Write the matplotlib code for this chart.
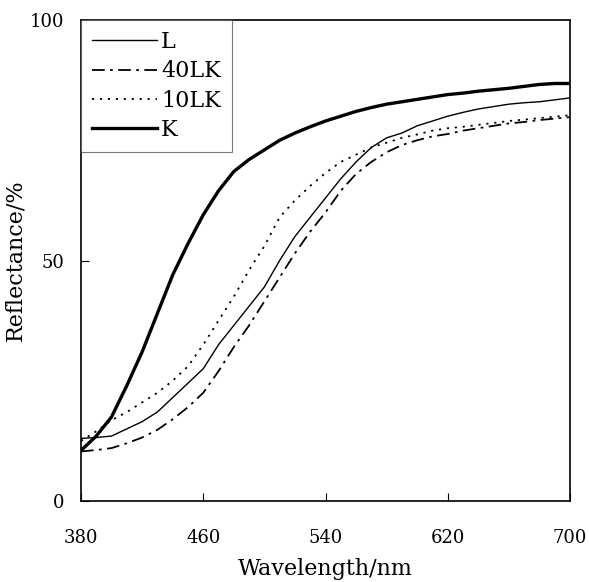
import matplotlib
matplotlib.use("Agg")
import matplotlib.pyplot as plt

plt.rcParams['font.family'] = ['DejaVu Serif']

wavelength = [380, 390, 400, 410, 420, 430, 440, 450, 460, 470, 480, 490, 500,
              510, 520, 530, 540, 550, 560, 570, 580, 590, 600, 610, 620, 630,
              640, 650, 660, 670, 680, 690, 700]

L = [13, 13.2, 13.5, 15, 16.5, 18.5, 21.5, 24.5, 27.5, 32.5, 36.5, 40.5, 44.5,
     50, 55, 59, 63, 67, 70.5, 73.5, 75.5, 76.5, 78, 79, 80, 80.8,
     81.5, 82, 82.5, 82.8, 83, 83.4, 83.8]
LK40 = [10.3, 10.6, 11, 12, 13.2, 14.8, 17, 19.5, 22.5, 27, 32, 36.5, 41.5,
        46.5, 51.5, 56, 60, 64.5, 68, 70.5, 72.5, 74, 75, 75.8, 76.3, 77,
        77.5, 78, 78.5, 78.8, 79.2, 79.5, 79.8]
LK10 = [12.5, 14.5, 16.8, 18.5, 20.5, 22.5, 25, 28, 32.5, 37.5, 42.5, 48, 53,
        59, 62.5, 65.5, 68.2, 70.5, 72, 73.5, 74.5, 75.5, 76.2, 77, 77.5, 77.8,
        78.2, 78.6, 79, 79.3, 79.6, 79.9, 80.2]
K = [10.5, 13.5, 17.5, 24, 31, 39, 47, 53.5, 59.5, 64.5, 68.5, 71, 73,
     75, 76.5, 77.8, 79, 80, 81, 81.8, 82.5, 83, 83.5, 84, 84.5, 84.8,
     85.2, 85.5, 85.8, 86.2, 86.6, 86.8, 86.8]

series_labels = ["L", "40LK", "10LK", "K"]
xticks = [380, 460, 540, 620, 700]
yticks = [0, 50, 100]

fig = plt.figure(figsize=(5.89, 5.82), dpi=100)
ax = fig.add_axes([81/589, 81/582, 489/589, 481/582])

ax.plot(wavelength, L, color='black', lw=1.0, label=series_labels[0])
ax.plot(wavelength, LK40, color='black', lw=1.3, dashes=(7, 3, 1.5, 3), label=series_labels[1])
ax.plot(wavelength, LK10, color='black', lw=1.3, dashes=(1.2, 3.2), label=series_labels[2])
ax.plot(wavelength, K, color='black', lw=2.4, label=series_labels[3])

ax.set_xlim(380, 700)
ax.set_ylim(0, 100)
ax.set_xticks(xticks)
ax.set_yticks(yticks)
ax.tick_params(axis='x', direction='in', length=6, pad=20, labelsize=13)
ax.tick_params(axis='y', direction='in', length=6, pad=12, labelsize=13)
for s in ax.spines.values():
    s.set_linewidth(1.2)

ax.set_xlabel("Wavelength/nm", fontsize=16, labelpad=8)
ax.set_ylabel("Reflectance/%", fontsize=16)
ax.yaxis.set_label_coords(-0.112, 0.5)

leg = ax.legend(loc='upper left', borderaxespad=0, fancybox=False, frameon=True,
                edgecolor='#555555', fontsize=16, handlelength=2.9,
                handletextpad=0.2, labelspacing=0.33, borderpad=0.5)
leg.get_frame().set_linewidth(0.8)

fig.savefig("out.png", dpi=100)
